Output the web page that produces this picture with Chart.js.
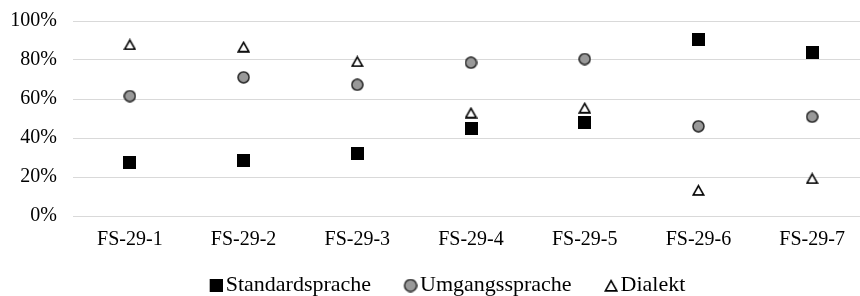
<!DOCTYPE html>
<html><head><meta charset="utf-8">
<script src="https://cdn.jsdelivr.net/npm/chart.js@4"></script>
<style>
html,body{margin:0;padding:0;overflow:hidden;background:#fff;width:860px;height:296px}
#wrap{position:absolute;left:0;top:0;width:877px;height:296px}
</style>
</head><body><div id="wrap"><canvas id="c" width="877" height="296"></canvas></div>
<script>
const categories = ['FS-29-1','FS-29-2','FS-29-3','FS-29-4','FS-29-5','FS-29-6','FS-29-7'];
const seriesNames = ['Standardsprache','Umgangssprache','Dialekt'];
const standardsprache = [27.3, 28.4, 32.3, 45.1, 48.2, 90.3, 83.8];
const umgangssprache = [61.5, 71.1, 67.3, 78.6, 80.5, 46.0, 50.9];
const dialekt = [88.0, 86.8, 79.3, 53.0, 55.5, 13.3, 19.3];
const yTickValues = [0, 20, 40, 60, 80, 100];

function mk(w, h, draw){ const c=document.createElement('canvas'); c.width=w; c.height=h; draw(c.getContext('2d'), w, h); return c; }
function squareM(s, off){ off=off||0; return mk(s+off,s,(g)=>{ g.fillStyle='#000'; g.fillRect(off,0,s,s); }); }
function circleM(s, off){ off=off||0; return mk(s+off,s,(g)=>{ g.beginPath(); g.arc(off+s/2,s/2,s/2-1,0,Math.PI*2); g.fillStyle='#999999'; g.fill(); g.lineWidth=1.5; g.strokeStyle='#262626'; g.stroke(); }); }
function triM(w,h, off){ off=off||0; return mk(w+off,h,(g)=>{ const lw=1.6; g.beginPath(); g.moveTo(off+w/2,lw); g.lineTo(off+w-lw*0.8,h-lw/2-0.3); g.lineTo(off+lw*0.8,h-lw/2-0.3); g.closePath(); g.fillStyle='#fff'; g.fill(); g.lineWidth=lw; g.strokeStyle='#000'; g.lineJoin='miter'; g.stroke(); }); }

const dataMarkers = [squareM(13), circleM(13), triM(13,12)];
const legendMarkers = [squareM(13,4), circleM(14,4), triM(14,13,4)];

Chart.defaults.font.family = "'Liberation Serif', 'Times New Roman', serif";
Chart.defaults.color = '#000';

const LEGEND_CENTER_Y = 285.5;
const LEGEND_SHIFT = 11.5;
const AREA_BOTTOM = 216;

const legendPlacer = {
  id: 'legendPlacer',
  afterLayout(chart){
    const lg = chart.legend;
    const pad = lg.options.labels.padding;
    const fs = lg.options.labels.font.size;
    lg.top = LEGEND_CENTER_Y - fs/2 - pad;
    lg.bottom = 296;
    lg.height = lg.bottom - lg.top;
    lg.left += LEGEND_SHIFT; lg.right += LEGEND_SHIFT;
    const xs = chart.scales.x;
    xs.bottom = 296; xs.height = xs.bottom - xs.top;
  }
};

const seriesData = [standardsprache, umgangssprache, dialekt];
new Chart(document.getElementById('c'), {
  type: 'line',
  data: {
    labels: categories,
    datasets: seriesNames.map((n,i)=>({
      label: n,
      data: seriesData[i],
      showLine: false,
      pointStyle: dataMarkers[i],
      pointRadius: 7,
      pointHoverRadius: 7,
      borderColor: '#000',
      backgroundColor: '#000'
    }))
  },
  options: {
    responsive: false,
    devicePixelRatio: 1,
    animation: false,
    layout: { padding: { top: 21, left: 0, right: 1, bottom: 0 } },
    plugins: {
      tooltip: { enabled: false },
      legend: {
        position: 'bottom',
        labels: {
          usePointStyle: true,
          pointStyleWidth: 1,
          boxWidth: 1,
          padding: 37,
          font: { size: 22 },
          color: '#000',
          generateLabels(chart){
            const base = Chart.defaults.plugins.legend.labels.generateLabels(chart);
            return base.map((l,i)=>Object.assign(l,{pointStyle: legendMarkers[i]}));
          }
        }
      }
    },
    scales: {
      x: {
        offset: true,
        grid: { display: false, drawTicks: false },
        border: { display: false },
        ticks: { padding: 12, font: { size: 20 }, color: '#000', maxRotation: 0, autoSkip: false },
        afterFit(scale){ const lg = scale.chart.legend; scale.height = 296 - AREA_BOTTOM - (lg ? lg.height : 0); }
      },
      y: {
        min: 0, max: 100,
        afterBuildTicks(scale){ scale.ticks = yTickValues.map(v=>({value:v})); },
        grid: { color: '#d9d9d9', lineWidth: 1, drawTicks: false },
        border: { display: false },
        ticks: { padding: 16, font: { size: 20, lineHeight: 0.5 }, color: '#000', autoSkip: false, callback: v => v + '%' },
        afterFit(scale){ scale.width = 73; }
      }
    }
  },
  plugins: [legendPlacer]
});
</script>
</body></html>
